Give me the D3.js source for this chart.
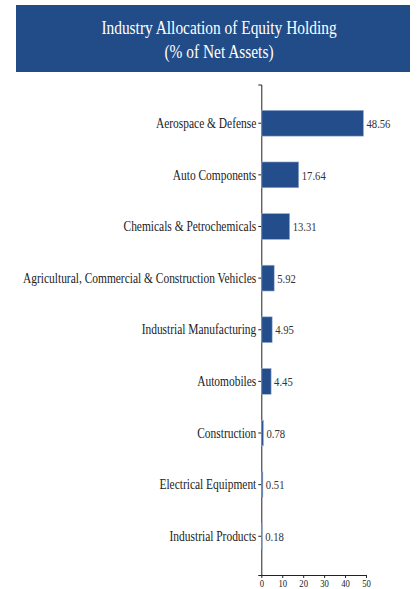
<!DOCTYPE html>
<html>
<head>
<meta charset="utf-8">
<script src="https://cdn.jsdelivr.net/npm/d3@7"></script>
<style>
  body { margin: 0; background: #fff; }
  text { font-family: "Liberation Serif", serif; }
</style>
</head>
<body>
<div id="chart"></div>
<script>
var svgWidth = 420;
var svgHeight = 589;

// data
var industries = [
  "Aerospace & Defense",
  "Auto Components",
  "Chemicals & Petrochemicals",
  "Agricultural, Commercial & Construction Vehicles",
  "Industrial Manufacturing",
  "Automobiles",
  "Construction",
  "Electrical Equipment",
  "Industrial Products"
];
var weights = [48.56, 17.64, 13.31, 5.92, 4.95, 4.45, 0.78, 0.51, 0.18];
var xTicks = [0, 10, 20, 30, 40, 50];
var titleLines = ["Industry Allocation of Equity Holding", "(% of Net Assets)"];

var squeeze = 0.79; // condensed look

var svg = d3.select("#chart")
  .append("svg")
  .attr("width", svgWidth)
  .attr("height", svgHeight);

// header band
svg.append("rect")
  .attr("x", 16).attr("y", 5)
  .attr("width", 394).attr("height", 67)
  .attr("fill", "#224c87");

svg.selectAll(".title")
  .data(titleLines)
  .join("text")
  .attr("class", "title")
  .attr("x", 219)
  .attr("y", (d, i) => 34 + i * 24)
  .attr("text-anchor", "middle")
  .attr("fill", "#fff")
  .attr("font-size", "19.5px")
  .text(d => d);

var margin = {top: 84.5, left: 261.3};
var plotH = 575 - margin.top;
var plotW = 366 - margin.left;

var g = svg.append("g")
  .attr("transform", `translate(${margin.left}, ${margin.top})`);

var x = d3.scaleLinear().domain([0, 50]).range([0, plotW]);
var y = d3.scaleBand().domain(industries).range([0, plotH])
  .paddingInner(0.5).paddingOuter(0.5);

// axes
var yAxis = g.append("g")
  .call(d3.axisLeft(y).tickSize(3).tickSizeOuter(3).tickPadding(2));
yAxis.selectAll("text").attr("font-size", "14.5px").attr("fill", "#222");

var xAxis = g.append("g")
  .attr("transform", `translate(0, ${plotH})`)
  .call(d3.axisBottom(x).tickValues(xTicks).tickSize(3).tickSizeOuter(0).tickPadding(1));
xAxis.selectAll("text").attr("font-size", "11px").attr("fill", "#222");

g.selectAll(".domain").attr("stroke", "#222");
g.selectAll(".tick line").attr("stroke", "#222");
g.selectAll("text").attr("font-family", "Liberation Serif, serif");

// bars
g.selectAll(".bar")
  .data(industries)
  .join("rect")
  .attr("class", "bar")
  .attr("x", 0.5)
  .attr("y", d => y(d))
  .attr("width", (d, i) => x(weights[i]))
  .attr("height", y.bandwidth())
  .attr("fill", "#234e8b")
  .attr("stroke", "#9fb4d6")
  .attr("stroke-width", 0.6);

// value labels
g.selectAll(".val")
  .data(industries)
  .join("text")
  .attr("class", "val")
  .attr("x", (d, i) => x(weights[i]) + 3.5)
  .attr("y", d => y(d) + y.bandwidth() / 2)
  .attr("dy", "0.35em")
  .attr("font-size", "13.5px")
  .attr("fill", "#333")
  .text((d, i) => weights[i].toFixed(2));

// squeeze all text horizontally
svg.selectAll("text").each(function() {
  var t = d3.select(this);
  var tx = +t.attr("x") || 0;
  t.attr("x", tx / squeeze)
    .attr("transform", `scale(${squeeze},1)`);
});
</script>
</body>
</html>
